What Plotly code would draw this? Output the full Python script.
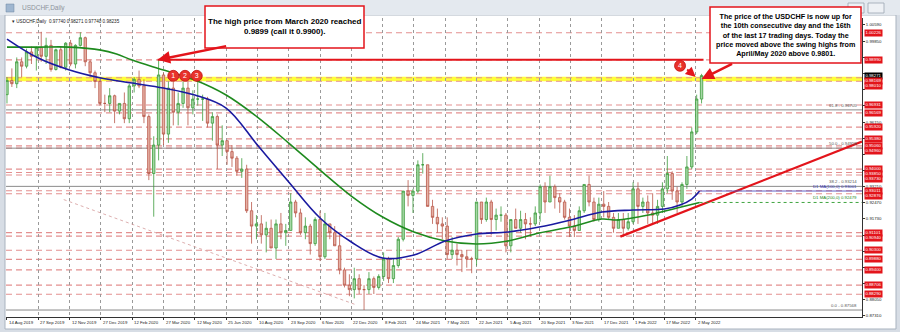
import plotly.graph_objects as go

# ---------------- data ----------------
# weekly candles (week k starts at daily bar 5*k; bar 0 = 14 Aug 2019)
closes = [0.9805, 0.9790, 0.9890, 0.9870, 0.9935, 0.9915, 0.9955, 0.9915, 0.9965, 0.9855,
          0.9945, 0.9865, 0.9975, 0.9880, 0.9965, 1.0000, 0.9890, 0.9840, 0.9800, 0.9700,
          0.9700, 0.9735, 0.9665, 0.9700, 0.9630, 0.9780, 0.9810, 0.9780, 0.9640, 0.9380,
          0.9510, 0.9830, 0.9560, 0.9770, 0.9660, 0.9700, 0.9770, 0.9680, 0.9720, 0.9720,
          0.9720, 0.9610, 0.9640, 0.9510, 0.9530, 0.9480, 0.9450, 0.9390, 0.9400, 0.9210,
          0.9140, 0.9150, 0.9100, 0.9130, 0.9040, 0.9150, 0.9110, 0.9120, 0.9250, 0.9200,
          0.9110, 0.9140, 0.9060, 0.9170, 0.9000, 0.9150, 0.9110, 0.9050, 0.8940, 0.8870,
          0.8850, 0.8900, 0.8850, 0.8850, 0.8900, 0.8860, 0.8910, 0.8990, 0.8900, 0.8960,
          0.9080, 0.9300, 0.9280, 0.9300, 0.9420, 0.9420, 0.9230, 0.9180, 0.9150, 0.9140,
          0.9010, 0.9030, 0.9010, 0.9000, 0.8990, 0.8990, 0.9250, 0.9170, 0.9250, 0.9170,
          0.9190, 0.9190, 0.9050, 0.9170, 0.9130, 0.9170, 0.9150, 0.9150, 0.9200, 0.9320,
          0.9250, 0.9320, 0.9270, 0.9250, 0.9180, 0.9140, 0.9120, 0.9210, 0.9330, 0.9250,
          0.9170, 0.9240, 0.9230, 0.9180, 0.9130, 0.9170, 0.9130, 0.9160, 0.9310, 0.9230,
          0.9250, 0.9200, 0.9190, 0.9230, 0.9310, 0.9380, 0.9300, 0.9250, 0.9330, 0.9410,
          0.9570, 0.9720, 0.98271]
highs = [0.9820, 0.9860, 0.9910, 0.9910, 0.9950, 0.9960, 0.9960, 1.0027, 1.0000, 0.9990,
         0.9950, 0.9960, 0.9980, 0.9990, 0.9970, 1.0025, 1.0005, 0.9900, 0.9850, 0.9810,
         0.9740, 0.9770, 0.9740, 0.9700, 0.9750, 0.9790, 0.9820, 0.9850, 0.9810, 0.9650,
         0.9550, 0.9901, 0.9840, 0.9800, 0.9800, 0.9750, 0.9800, 0.9800, 0.9760, 0.9800,
         0.9740, 0.9730, 0.9660, 0.9650, 0.9600, 0.9530, 0.9510, 0.9460, 0.9450, 0.9420,
         0.9250, 0.9190, 0.9190, 0.9160, 0.9170, 0.9170, 0.9200, 0.9150, 0.9290, 0.9260,
         0.9220, 0.9180, 0.9150, 0.9180, 0.9210, 0.9200, 0.9150, 0.9140, 0.9100, 0.8950,
         0.8920, 0.8950, 0.8920, 0.8870, 0.8930, 0.8910, 0.8920, 0.9020, 0.9000, 0.8990,
         0.9090, 0.9300, 0.9350, 0.9310, 0.9440, 0.9473, 0.9420, 0.9260, 0.9220, 0.9180,
         0.9180, 0.9090, 0.9060, 0.9030, 0.9030, 0.9000, 0.9250, 0.9250, 0.9270, 0.9260,
         0.9220, 0.9230, 0.9200, 0.9170, 0.9220, 0.9210, 0.9200, 0.9180, 0.9230, 0.9330,
         0.9340, 0.9370, 0.9330, 0.9290, 0.9260, 0.9220, 0.9190, 0.9230, 0.9330, 0.9370,
         0.9270, 0.9270, 0.9300, 0.9250, 0.9200, 0.9200, 0.9200, 0.9200, 0.9340, 0.9340,
         0.9270, 0.9280, 0.9290, 0.9260, 0.9340, 0.9460, 0.9390, 0.9320, 0.9340, 0.9460,
         0.9590, 0.9740, 0.9835]
lows = [0.9700, 0.9775, 0.9770, 0.9820, 0.9860, 0.9880, 0.9850, 0.9890, 0.9880, 0.9845,
        0.9850, 0.9860, 0.9850, 0.9870, 0.9860, 0.9960, 0.9870, 0.9820, 0.9770, 0.9690,
        0.9660, 0.9660, 0.9610, 0.9650, 0.9610, 0.9610, 0.9750, 0.9770, 0.9610, 0.9350,
        0.9183, 0.9440, 0.9510, 0.9520, 0.9600, 0.9600, 0.9680, 0.9600, 0.9650, 0.9690,
        0.9620, 0.9590, 0.9530, 0.9400, 0.9460, 0.9420, 0.9410, 0.9370, 0.9360, 0.9200,
        0.9060, 0.9080, 0.9060, 0.9020, 0.9040, 0.8990, 0.9080, 0.9050, 0.9120, 0.9180,
        0.9100, 0.9080, 0.9010, 0.9050, 0.8980, 0.8990, 0.9080, 0.9050, 0.8920, 0.8860,
        0.8820, 0.8810, 0.8830, 0.8757, 0.8830, 0.8830, 0.8850, 0.8890, 0.8880, 0.8880,
        0.8950, 0.9070, 0.9230, 0.9200, 0.9290, 0.9380, 0.9230, 0.9150, 0.9110, 0.9080,
        0.8990, 0.8990, 0.8960, 0.8930, 0.8950, 0.8925, 0.8960, 0.9150, 0.9160, 0.9100,
        0.9120, 0.9160, 0.9020, 0.9020, 0.9130, 0.9110, 0.9080, 0.9090, 0.9140, 0.9160,
        0.9200, 0.9250, 0.9220, 0.9200, 0.9170, 0.9090, 0.9090, 0.9120, 0.9200, 0.9230,
        0.9160, 0.9160, 0.9180, 0.9170, 0.9110, 0.9130, 0.9090, 0.9120, 0.9150, 0.9150,
        0.9200, 0.9150, 0.9150, 0.9150, 0.9200, 0.9290, 0.9260, 0.9200, 0.9230, 0.9310,
        0.9400, 0.9560, 0.9700]
first_open = 0.9740
opens = [first_open] + closes[:-1]
BARS_PER_CANDLE = 5

# moving averages read at sample bars
ma100_bars = [0, 32, 64, 96, 128, 160, 192, 224, 256, 288, 320, 352, 384, 416, 448, 480,
              512, 544, 576, 608, 640, 672, 688, 700, 708]
ma100_vals = [0.99937, 0.99070, 0.98523, 0.98158, 0.97929, 0.97701, 0.97382, 0.96789, 0.95100,
              0.93412, 0.91769, 0.90673, 0.89943, 0.90080, 0.90719, 0.91038, 0.91130, 0.91358,
              0.91677, 0.92042, 0.92134, 0.92179, 0.92362, 0.92636, 0.93001]
ma200_bars = [0, 32, 64, 96, 112, 128, 160, 192, 224, 256, 288, 320, 352, 384, 416, 448, 480,
              512, 544, 576, 608, 624, 656, 685, 708]
ma200_vals = [0.99572, 0.99572, 0.99572, 0.99435, 0.99253, 0.98979, 0.98523, 0.98066, 0.97382,
              0.96378, 0.95191, 0.93959, 0.92773, 0.91814, 0.91130, 0.90719, 0.90582, 0.90719,
              0.91084, 0.91358, 0.91723, 0.91677, 0.91906, 0.92225, 0.92479]

date_labels = ["14 Aug 2019", "27 Sep 2019", "12 Nov 2019", "27 Dec 2019", "12 Feb 2020",
               "27 Mar 2020", "12 May 2020", "25 Jun 2020", "10 Aug 2020", "23 Sep 2020",
               "6 Nov 2020", "22 Dec 2020", "8 Feb 2021", "24 Mar 2021", "7 May 2021",
               "22 Jun 2021", "5 Aug 2021", "20 Sep 2021", "3 Nov 2021", "17 Dec 2021",
               "1 Feb 2022", "17 Mar 2022", "2 May 2022"]
BARS_PER_DATE = 32
price_labels = ["1.00590", "0.99850", "0.99110", "0.98370", "0.97630", "0.96890", "0.96150",
                "0.95410", "0.94680", "0.93940", "0.93210", "0.92470", "0.91730", "0.90990",
                "0.90250", "0.89520", "0.88780", "0.88050", "0.87310"]

level_lines = [1.00226, 0.98990, 0.98169, 0.98010, 0.96931, 0.96569, 0.95920, 0.95380, 0.95060,
               0.94960, 0.94000, 0.93850, 0.93730, 0.93011, 0.92876, 0.91101, 0.90940, 0.90300,
               0.89880, 0.89400, 0.88706, 0.88290]
fib_levels = [0.96705, 0.94958, 0.93214, 0.87568]
fib_names = ["61.8", "50.0", "38.2", "0.0"]
last_price = 0.98271
high_2020 = 0.9899
high_2020_bars = [154, 712]
band = [0.98010, 0.98220]
trend_pts = [(627, 0.9092), (874, 0.9526)]
diag_pts = [(58, 0.9261), (356, 0.8782)]
circle_bars = [170, 182, 194, 688]
circle_prices = [0.9826, 0.9826, 0.9826, 0.9872]
circle_text = ["1", "2", "3", "4"]

# ---------------- layout geometry ----------------
W, H = 900, 332
L, R, T, B = 6, 38, 18, 15
PW, PH = W - L - R, H - T - B
X0, X1 = -1, 874
Y0, Y1 = 0.8725, 1.0090


def px(x):
    return (x - L) / PW


def py(y):
    return (H - B - y) / PH


def ypix(v):
    return T + (Y1 - v) / (Y1 - Y0) * PH


FONT = "Liberation Sans"
RED = "#e3141b"
PINK = "#e39090"
LAB_GAP = 5.0

fig = go.Figure()

candle_x = [BARS_PER_CANDLE * k for k in range(len(closes))]
fig.add_trace(go.Candlestick(
    x=candle_x, open=opens, high=highs, low=lows, close=closes,
    increasing=dict(line=dict(color="#3c9c3c", width=0.8), fillcolor="#a6d8a6"),
    decreasing=dict(line=dict(color="#b9584a", width=0.8), fillcolor="#e6b0a4"),
    whiskerwidth=0, showlegend=False, hoverinfo="skip"))

fig.add_trace(go.Scatter(x=ma200_bars, y=ma200_vals, mode="lines",
                         line=dict(color="#1e8a1e", width=1.6, shape="spline"),
                         showlegend=False, hoverinfo="skip"))
fig.add_trace(go.Scatter(x=ma100_bars, y=ma100_vals, mode="lines",
                         line=dict(color="#1a1aa0", width=1.6, shape="spline"),
                         showlegend=False, hoverinfo="skip"))

shapes = []
# window frame
shapes.append(dict(type="rect", xref="paper", yref="paper", x0=px(5), x1=px(896), y0=py(329), y1=py(15),
                   fillcolor="white", line=dict(color="#a9b3bf", width=1), layer="below"))
shapes.append(dict(type="rect", xref="paper", yref="paper", x0=px(0), x1=px(900), y0=py(15), y1=py(0),
                   fillcolor="#e4e9ef", line=dict(width=0), layer="below"))
shapes.append(dict(type="rect", xref="paper", yref="paper", x0=px(6), x1=px(14), y0=py(12), y1=py(4),
                   fillcolor="#9fb6d0", line=dict(color="#6f86a0", width=0.5)))
for bx in (848, 868):
    shapes.append(dict(type="rect", xref="paper", yref="paper", x0=px(bx), x1=px(bx + 16), y0=py(13), y1=py(3),
                       fillcolor="#eef1f5", line=dict(color="#9aa5b1", width=0.8)))
# yellow band
shapes.append(dict(type="rect", xref="paper", yref="y", x0=0, x1=1, y0=band[0], y1=band[1],
                   fillcolor="#ffff22", opacity=0.9, line=dict(width=0), layer="below"))
# dashed levels
for v in level_lines:
    shapes.append(dict(type="line", xref="paper", yref="y", x0=0, x1=1, y0=v, y1=v,
                       line=dict(color=PINK, width=1.1, dash="6px,4px"), layer="below"))
# fib levels
for v in fib_levels:
    shapes.append(dict(type="line", xref="paper", yref="y", x0=0, x1=1, y0=v, y1=v,
                       line=dict(color="#8a8a8a", width=1), layer="below"))
# diagonal dotted line
shapes.append(dict(type="line", xref="x", yref="y", x0=diag_pts[0][0], y0=diag_pts[0][1],
                   x1=diag_pts[1][0], y1=diag_pts[1][1], line=dict(color="#d49a9a", width=0.8, dash="dot")))
# 2020 high line
shapes.append(dict(type="line", xref="x", yref="y", x0=high_2020_bars[0], x1=high_2020_bars[1],
                   y0=high_2020, y1=high_2020, line=dict(color=RED, width=2)))
# trend line
shapes.append(dict(type="line", xref="x", yref="y", x0=trend_pts[0][0], y0=trend_pts[0][1],
                   x1=trend_pts[1][0], y1=trend_pts[1][1], line=dict(color=RED, width=2.2)))
# MA extension lines
shapes.append(dict(type="line", xref="x", yref="y", x0=ma100_bars[-1], x1=X1, y0=ma100_vals[-1],
                   y1=ma100_vals[-1], line=dict(color="#5050c0", width=0.9)))
shapes.append(dict(type="line", xref="x", yref="y", x0=ma200_bars[-1], x1=X1, y0=ma200_vals[-1],
                   y1=ma200_vals[-1], line=dict(color="#2a9a2a", width=0.9, dash="dot")))
# text boxes
shapes.append(dict(type="rect", xref="paper", yref="paper", x0=px(205), x1=px(364), y0=py(48), y1=py(6),
                   fillcolor="white", line=dict(color=RED, width=1.5)))
shapes.append(dict(type="rect", xref="paper", yref="paper", x0=px(710), x1=px(861), y0=py(63), y1=py(7),
                   fillcolor="white", line=dict(color=RED, width=1.5)))

ann = []
ann.append(dict(xref="paper", yref="paper", x=px(20), y=py(8), text="USDCHF,Daily", showarrow=False,
                xanchor="left", yanchor="middle", font=dict(family=FONT, size=6.5, color="#8d949c")))
ann.append(dict(xref="paper", yref="paper", x=px(10), y=py(22),
                text="▾ USDCHF,Daily  0.97740 0.98271 0.97740 0.98235", showarrow=False,
                xanchor="left", yanchor="middle", font=dict(family=FONT, size=4.6, color="#222")))

# right side price labels, stacked so they do not overlap
tags = [(v, RED) for v in level_lines] + [(last_price, "black")]
tags.sort(key=lambda t: -t[0])
placed = []
prev = -1e9
for v, col in tags:
    p0 = ypix(v)
    p = max(p0, prev + LAB_GAP)
    prev = p
    placed.append(p)
    ann.append(dict(xref="paper", yref="y", x=1.002, y=v, yshift=-(p - p0), text=f"{v:.5f}",
                    showarrow=False, xanchor="left", yanchor="middle", bgcolor=col, borderpad=0.4,
                    font=dict(family=FONT, size=4.3, color="white")))
tick_text = []
for s in price_labels:
    tp = ypix(float(s))
    hidden = any(abs(tp - p) < 4.2 for p in placed)
    tick_text.append("" if hidden else s)

for name, v in zip(fib_names, fib_levels):
    ann.append(dict(xref="paper", yref="y", x=0.997, y=v, text=f"{name} - {v:.5f}", showarrow=False,
                    xanchor="right", yanchor="bottom", font=dict(family=FONT, size=4.3, color="#555")))
ann.append(dict(xref="paper", yref="y", x=0.997, y=ma100_vals[-1], text=f"D1 MA(100,0) {ma100_vals[-1]:.5f}",
                showarrow=False, xanchor="right", yanchor="bottom",
                font=dict(family=FONT, size=4.3, color="#3030b0")))
ann.append(dict(xref="paper", yref="y", x=0.997, y=ma200_vals[-1], text=f"D1 MA(200,0) {ma200_vals[-1]:.5f}",
                showarrow=False, xanchor="right", yanchor="bottom",
                font=dict(family=FONT, size=4.3, color="#1e8a1e")))
# date labels
for i, lab in enumerate(date_labels):
    ann.append(dict(xref="x", yref="paper", x=i * BARS_PER_DATE, y=py(322), text=lab, showarrow=False,
                    xanchor="left", yanchor="middle", font=dict(family=FONT, size=4.3, color="#222")))
# text box contents
ann.append(dict(xref="paper", yref="paper", x=px(284.5), y=py(27),
                text="<b>The high price from March 2020 reached<br>0.9899 (call it 0.9900).</b>",
                showarrow=False, xanchor="center", yanchor="middle", align="center",
                font=dict(family=FONT, size=8, color="black")))
ann.append(dict(xref="paper", yref="paper", x=px(785.5), y=py(35),
                text="<b>The price of the USDCHF is now up for<br>the 10th consecutive day and the 16th<br>"
                     "of the last 17 trading days. Today the<br>price moved above the swing highs from<br>"
                     "April/May 2020 above 0.9801.</b>",
                showarrow=False, xanchor="center", yanchor="middle", align="center",
                font=dict(family=FONT, size=7.2, color="black")))
# arrows
ann.append(dict(xref="x", yref="y", x=154, y=high_2020, ax=70, ay=-14, showarrow=True, text="",
                arrowcolor=RED, arrowwidth=2.5, arrowhead=2, arrowsize=1))
ann.append(dict(xref="x", yref="y", x=710, y=0.98112, ax=32, ay=-16, showarrow=True, text="",
                arrowcolor=RED, arrowwidth=2.5, arrowhead=2, arrowsize=1))
ann.append(dict(xref="x", yref="y", x=704, y=0.98203, ax=-10, ay=-9, showarrow=True, text="",
                arrowcolor=RED, arrowwidth=2, arrowhead=2, arrowsize=1))
fig.update_layout(shapes=shapes, annotations=ann)

fig.add_trace(go.Scatter(x=circle_bars, y=circle_prices, mode="markers+text", text=circle_text,
                         marker=dict(size=11, color="#e8322a", line=dict(color="#c01010", width=0.8)),
                         textfont=dict(family=FONT, size=7, color="white"), textposition="middle center",
                         showlegend=False, hoverinfo="skip"))

tickvals = [float(s) for s in price_labels]
fig.update_layout(
    width=W, height=H, margin=dict(l=L, r=R, t=T, b=B),
    paper_bgcolor="#d7dde5", plot_bgcolor="white",
    font=dict(family=FONT),
    xaxis=dict(range=[X0, X1], rangeslider=dict(visible=False),
               tickvals=[i * BARS_PER_DATE for i in range(len(date_labels))],
               showticklabels=False, showgrid=True, gridcolor="#9a9a9a", griddash="dot", gridwidth=0.7,
               zeroline=False, showline=True, linecolor="#333", linewidth=1, mirror=False,
               ticks="outside", ticklen=2, tickcolor="#333"),
    yaxis=dict(range=[Y0, Y1], side="right", tickvals=tickvals, ticktext=tick_text,
               showgrid=False, zeroline=False, showline=True, linecolor="#333", linewidth=1,
               ticks="outside", ticklen=2, tickcolor="#333",
               tickfont=dict(family=FONT, size=4.3, color="#222")),
)

fig.write_html("out.html")
